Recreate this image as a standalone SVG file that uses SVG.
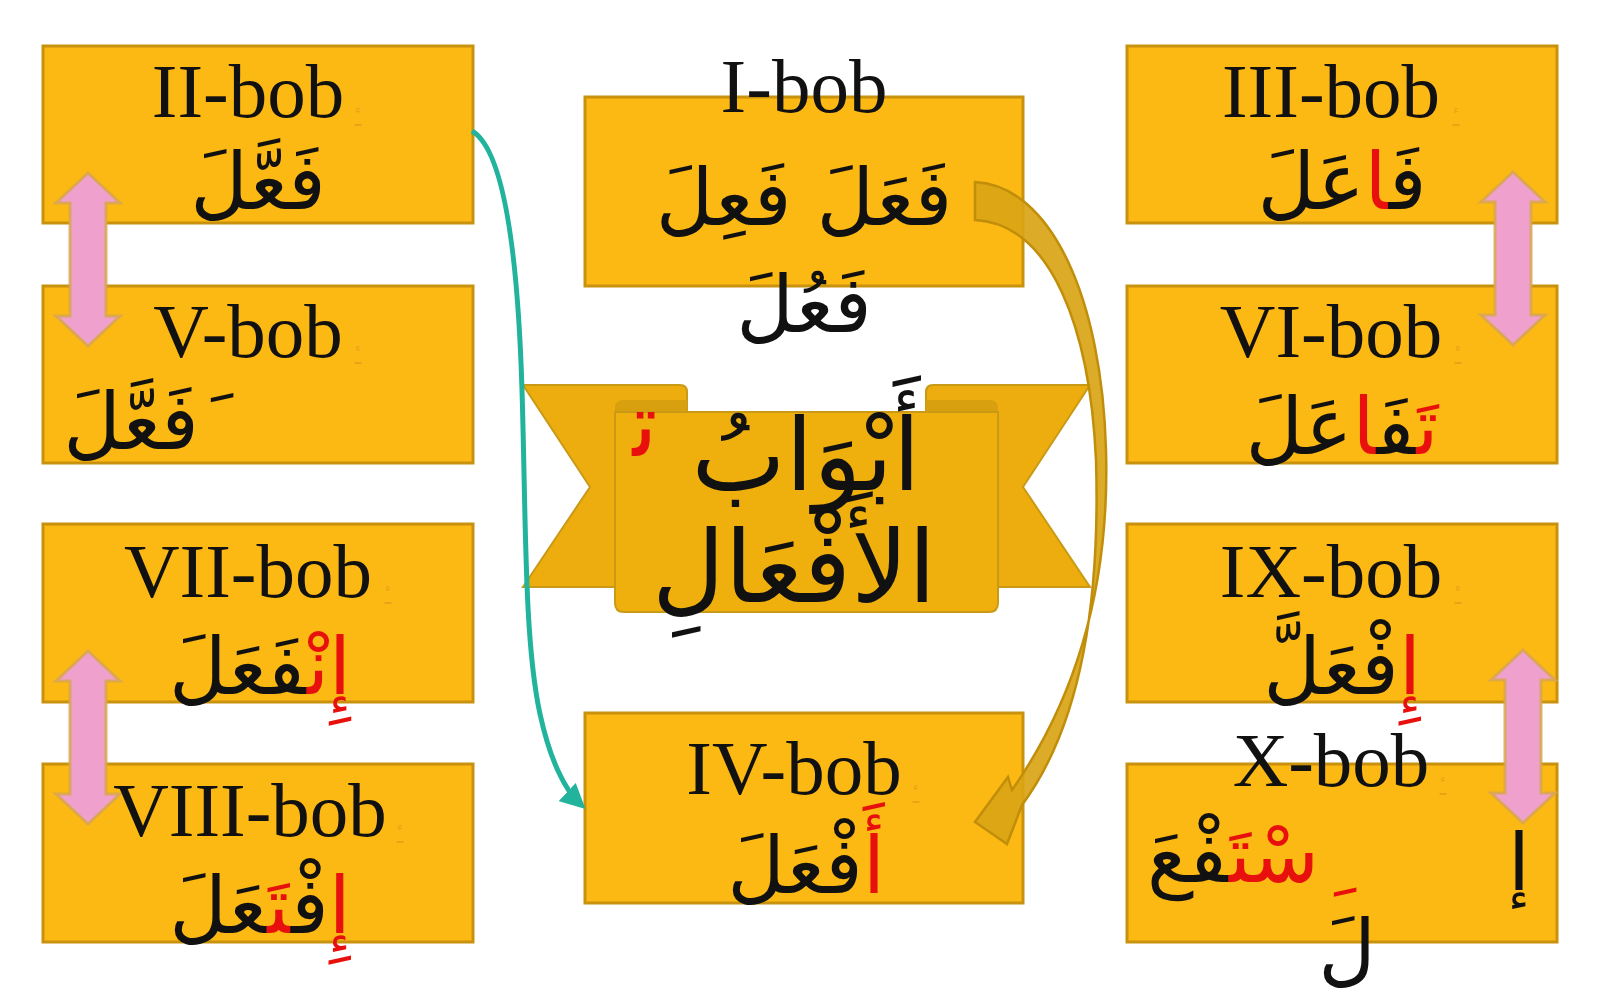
<svg xmlns="http://www.w3.org/2000/svg" width="1600" height="1000" viewBox="0 0 1600 1000">
<style>
.box{fill:#FDB913;stroke:#C8920F;stroke-width:3}
.lat{font-family:"Liberation Serif",serif;font-size:77px;fill:#111;text-anchor:middle}
.ar{font-family:"DejaVu Sans",sans-serif;font-size:79px;fill:#111;text-anchor:middle}
.r{fill:#E8100C}
.mk{font-family:"DejaVu Sans",sans-serif;font-size:22px;fill:#E0901A;opacity:0.55;text-anchor:middle}
.rib{fill:#EDAD0E;stroke:#C99A15;stroke-width:2}
.curl{fill:#D8A00E}
.pink{fill:#F0A0CC;stroke:#D7A650;stroke-width:3;stroke-opacity:0.85}
</style>
<defs>
<path id="dbl" d="M0,0 L32,30 L18,30 L18,143 L32,143 L0,173 L-32,143 L-18,143 L-18,30 L-32,30 Z"/>
<marker id="tealHead" markerWidth="5" markerHeight="5" refX="3.5" refY="2.5" orient="auto" markerUnits="strokeWidth">
<path d="M0,0 L5,2.5 L0,5 Z" fill="#22B39C"/>
</marker>
</defs>
<rect width="1600" height="1000" fill="#FFFFFF"/>

<g id="node-banner">
<path class="rib" d="M523,385 L680,385 Q687,385 687,392 L687,412 L615,412 L615,587 L523,587 L590,487 Z"/>
<path class="rib" d="M1090,385 L933,385 Q926,385 926,392 L926,412 L998,412 L998,587 L1090,587 L1023,487 Z"/>
<path class="curl" d="M615,414 L615,408 Q615,400 624,400 L687,400 L687,414 Z"/>
<path class="curl" d="M998,414 L998,408 Q998,400 989,400 L926,400 L926,414 Z"/>
<path d="M615,412 L998,412 L998,603 Q998,612 989,612 L624,612 Q615,612 615,603 Z" fill="#EFB00E" stroke="#C99A15" stroke-width="2"/>
</g>

<g id="node-I">
<rect class="box" x="585" y="97" width="438" height="189"/>
</g>
<g id="node-IV">
<rect class="box" x="585" y="713" width="438" height="190"/>
</g>
<g id="node-II"><rect class="box" x="43" y="46" width="430" height="177"/></g>
<g id="node-V"><rect class="box" x="43" y="286" width="430" height="177"/></g>
<g id="node-VII"><rect class="box" x="43" y="524" width="430" height="178"/></g>
<g id="node-VIII"><rect class="box" x="43" y="764" width="430" height="178"/></g>
<g id="node-III"><rect class="box" x="1127" y="46" width="430" height="177"/></g>
<g id="node-VI"><rect class="box" x="1127" y="286" width="430" height="177"/></g>
<g id="node-IX"><rect class="box" x="1127" y="524" width="430" height="178"/></g>
<g id="node-X"><rect class="box" x="1127" y="764" width="430" height="178"/></g>

<g id="connectors">
<path d="M472,131 C505,150 518,260 522,390 C526,520 524,640 540,714 C550,760 565,790 580,804" fill="none" stroke="#22B39C" stroke-width="5" marker-end="url(#tealHead)"/>
<path d="M975,182 C1052,186 1102,300 1106,450 C1110,590 1075,700 1012,790 L1008,777 L975,822 L1007,844 L1022,805 C1085,720 1100,590 1096,460 C1090,330 1052,224 975,220 Z" fill="#D9A416" fill-opacity="0.92" stroke="#C08E0A" stroke-width="2.5"/>
<use href="#dbl" class="pink" transform="translate(88,173)"/>
<use href="#dbl" class="pink" transform="translate(88,651)"/>
<use href="#dbl" class="pink" transform="translate(1513,172)"/>
<use href="#dbl" class="pink" transform="translate(1523,650)"/>
</g>

<g id="labels">
<text class="lat" x="248" y="117">II-bob</text>
<text class="mk" x="358" y="126">ـٔ</text>
<text class="ar" x="258" y="209">فَعَّلَ</text>

<text class="lat" x="248" y="357">V-bob</text>
<text class="mk" x="358" y="364">ـٔ</text>
<text class="ar" x="131" y="449">فَعَّلَ</text>
<text class="ar" x="222" y="449">ﹶ</text>

<text class="lat" x="248" y="597">VII-bob</text>
<text class="mk" x="388" y="604">ـٔ</text>
<text class="ar" x="260" y="694"><tspan class="r">إِنْ</tspan>فَعَلَ</text>

<text class="lat" x="250" y="836">VIII-bob</text>
<text class="mk" x="400" y="843">ـٔ</text>
<text class="ar" x="260" y="933"><tspan class="r">إِ</tspan>فْ<tspan class="r">تَ</tspan>عَلَ</text>

<text class="lat" x="804" y="112">I-bob</text>
<text class="ar" x="804" y="225">فَعَلَ فَعِلَ</text>
<text class="ar" x="804" y="332">فَعُلَ</text>

<text class="lat" x="794" y="794">IV-bob</text>
<text class="mk" x="916" y="803">ـٔ</text>
<text class="ar" x="806" y="893"><tspan class="r">أَ</tspan>فْعَلَ</text>

<text class="lat" x="1331" y="117">III-bob</text>
<text class="mk" x="1456" y="126">ـٔ</text>
<text class="ar" x="1342" y="209">فَ<tspan class="r">ا</tspan>عَلَ</text>

<text class="lat" x="1331" y="357">VI-bob</text>
<text class="mk" x="1458" y="364">ـٔ</text>
<text class="ar" x="1342" y="454"><tspan class="r">تَ</tspan>فَ<tspan class="r">ا</tspan>عَلَ</text>

<text class="lat" x="1331" y="597">IX-bob</text>
<text class="mk" x="1458" y="604">ـٔ</text>
<text class="ar" x="1342" y="694"><tspan class="r">إِ</tspan>فْعَلَّ</text>

<text class="lat" x="1331" y="786">X-bob</text>
<text class="mk" x="1443" y="795">ـٔ</text>
<text class="ar" x="1233" y="882"><tspan class="r">سْتَ</tspan>فْعَ</text>
<text class="ar" x="1519" y="890">إ</text>
<text class="ar r" x="1345" y="886">ﹺ</text>
<text class="ar" x="1347" y="976" font-size="64">لَ</text>

<text font-family="DejaVu Sans, sans-serif" font-size="100" fill="#111" text-anchor="middle" x="806" y="490">أَبْوَابُ</text>
<text font-family="DejaVu Sans, sans-serif" font-size="100" fill="#111" text-anchor="middle" x="794" y="602">الأَفْعَالِ</text>
<text font-family="DejaVu Sans, sans-serif" font-size="90" fill="#E8100C" text-anchor="middle" x="645" y="456">ﺗ</text>
</g>
</svg>
